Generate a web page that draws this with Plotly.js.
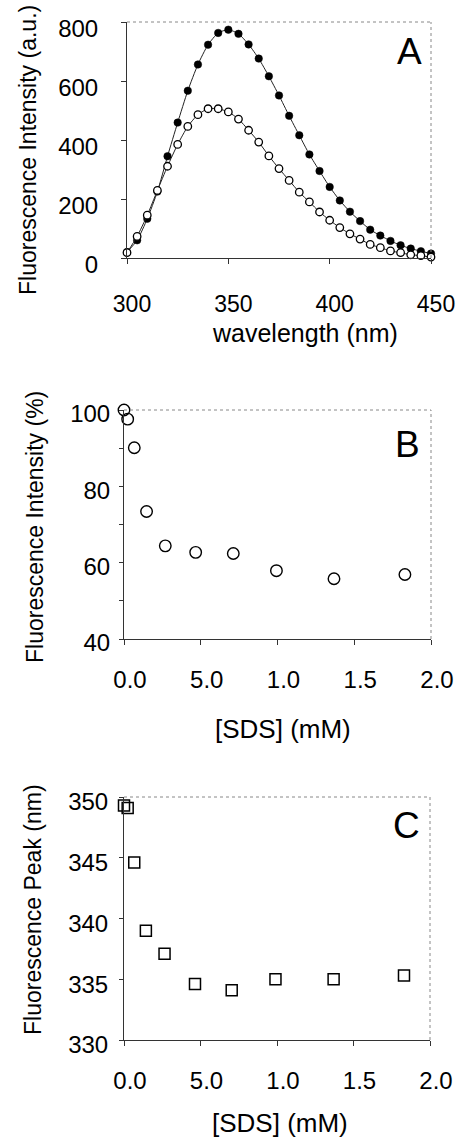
<!DOCTYPE html>
<html>
<head>
<meta charset="utf-8">
<script src="https://cdn.plot.ly/plotly-3.0.1.min.js"></script>
<style>html,body{margin:0;padding:0;background:#fff;}#chart{width:458px;height:1141px;}</style>
</head>
<body>
<div id="chart"></div>
<script>
// ---- Panel A: emission spectra ----
const wavelength = [300,305,310,315,320,325,330,335,340,345,350,355,360,365,370,375,380,385,390,395,400,405,410,415,420,425,430,435,440,445,450];
const intensityFilled = [20,60,133,225,345,459,567,656,723,763,774,760,724,676,616,551,482,416,351,295,241,195,157,125,96,76,58,43,32,23,15];
const intensityOpen = [18,73,145,229,311,385,446,486,506,506,495,471,433,393,346,303,263,223,190,156,128,103,82,64,46,35,24,18,11,8,3];

// ---- Panel B: relative intensity vs SDS ----
const sdsB = [0.0,0.024,0.067,0.147,0.269,0.467,0.712,0.993,1.368,1.83];
const relIntensity = [100,97.6,90.1,73.4,64.4,62.7,62.4,57.9,55.8,56.9];

// ---- Panel C: peak wavelength vs SDS ----
const sdsC = [0.0,0.024,0.067,0.143,0.265,0.464,0.704,0.99,1.37,1.83];
const peakNm = [349.3,349.1,344.6,339.0,337.1,334.6,334.1,335.0,335.0,335.3];

// tick labels (as printed in the figure)
const sdsTickVals = [0,0.5,1,1.5,2];
const sdsTickText = ["0.0","5.0","1.0","1.5","2.0"];

const W = 458, H = 1141;
const px = v => v / W;
const py = v => (H - v) / H;
const FONT = "Liberation Sans, Arial, Helvetica, sans-serif";

const traces = [
  {x: wavelength, y: intensityFilled, xaxis:'x', yaxis:'y', mode:'lines+markers', type:'scatter',
   line:{color:'#222', width:1, shape:'spline', smoothing:0.6},
   marker:{symbol:'circle', size:7.5, color:'#000', line:{color:'#000', width:0.5}}, cliponaxis:false},
  {x: wavelength, y: intensityOpen, xaxis:'x', yaxis:'y', mode:'lines+markers', type:'scatter',
   line:{color:'#222', width:1, shape:'spline', smoothing:0.6},
   marker:{symbol:'circle', size:7.5, color:'#fff', line:{color:'#000', width:1.3}}, cliponaxis:false},
  {x: sdsB, y: relIntensity, xaxis:'x2', yaxis:'y2', mode:'markers', type:'scatter',
   marker:{symbol:'circle-open', size:11.5, color:'#000', line:{color:'#000', width:1.4}}, cliponaxis:false},
  {x: sdsC, y: peakNm, xaxis:'x3', yaxis:'y3', mode:'markers', type:'scatter',
   marker:{symbol:'square-open', size:11, color:'#000', line:{color:'#000', width:1.5}}, cliponaxis:false}
];

const tickFont = {family: FONT, size: 24, color:'#000'};
const baseAxis = {showgrid:false, zeroline:false, showline:true, linecolor:'#333', linewidth:1,
  ticks:'outside', ticklen:5, tickcolor:'#333', tickwidth:1, tickfont:tickFont, fixedrange:true,
  ticklabeloverflow:'allow'};

const layout = {
  width: W, height: H,
  margin:{l:0, r:0, t:0, b:0},
  paper_bgcolor:'#fff', plot_bgcolor:'#fff',
  showlegend:false,
  font:{family: FONT, color:'#000'},
  xaxis: Object.assign({}, baseAxis, {domain:[px(127), px(431)], range:[300,450], anchor:'y',
    tickvals:[300,350,400,450], ticklabelstandoff:20, ticklabelshift:5,
    tickfont:{family:FONT, size:23, color:'#000'}}),
  yaxis: Object.assign({}, baseAxis, {domain:[py(258), py(22)], range:[0,800], anchor:'x',
    tickvals:[0,200,400,600,800], ticklabelstandoff:18, ticklabelshift:7}),
  xaxis2: Object.assign({}, baseAxis, {domain:[px(124), px(431)], range:[0,2], anchor:'y2',
    tickvals:sdsTickVals, ticktext:sdsTickText, ticklabelstandoff:14, ticklabelshift:6}),
  yaxis2: Object.assign({}, baseAxis, {domain:[py(639), py(410)], range:[40,100], anchor:'x2',
    tickvals:[40,60,80,100], ticklabelstandoff:4, ticklabelshift:4, ticklen:4,
    minor:{tickvals:[50,70,90], ticks:'outside', ticklen:4, tickcolor:'#333'}}),
  xaxis3: Object.assign({}, baseAxis, {domain:[px(124), px(430)], range:[0,2], anchor:'y3',
    tickvals:sdsTickVals, ticktext:sdsTickText, ticklabelstandoff:14, ticklabelshift:6}),
  yaxis3: Object.assign({}, baseAxis, {domain:[py(1040), py(797)], range:[330,350], anchor:'x3',
    tickvals:[330,335,340,345,350], ticklabelstandoff:6, ticklabelshift:5, ticklen:4}),
  shapes: [],
  annotations: []
};

// dotted frame (top & right) for each panel
[['x','y'],['x2','y2'],['x3','y3']].forEach(([xa,ya]) => {
  const line = {color:'#888', width:1, dash:'dot'};
  layout.shapes.push({type:'line', xref:xa+' domain', yref:ya+' domain', x0:0, x1:1, y0:1, y1:1, line});
  layout.shapes.push({type:'line', xref:xa+' domain', yref:ya+' domain', x0:1, x1:1, y0:0, y1:1, line});
});

function ann(text, x, y, size, angle) {
  layout.annotations.push({text, xref:'paper', yref:'paper', x:px(x), y:py(y),
    xanchor:'center', yanchor:'middle', showarrow:false, textangle: angle || 0,
    font:{family:FONT, size, color:'#000'}});
}
// axis titles
ann('wavelength (nm)', 305, 333, 25);
ann('Fluorescence Intensity (a.u.)', 28, 150, 23, -90);
ann('[SDS] (mM)', 283, 729, 26);
ann('Fluorescence Intensity (%)', 35, 527, 23, -90);
ann('[SDS] (mM)', 280, 1123, 26);
ann('Fluorescence Peak (nm)', 33, 910, 23, -90);
// panel letters
ann('A', 409, 52, 37);
ann('B', 407, 444, 37);
ann('C', 406, 825, 37);

Plotly.newPlot('chart', traces, layout, {displayModeBar:false, staticPlot:true});
</script>
</body>
</html>
